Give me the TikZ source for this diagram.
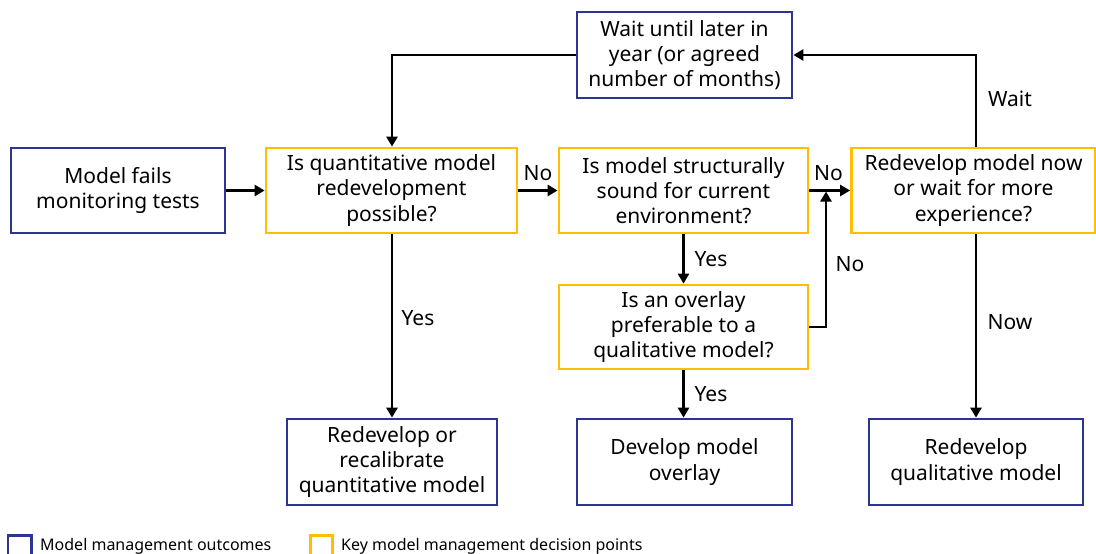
\documentclass[tikz,border=0pt]{standalone}
\usepackage{fontspec}
\setmainfont{Noto Sans}
\usetikzlibrary{arrows.meta}
\definecolor{outblue}{RGB}{46,52,146}
\definecolor{keyyellow}{RGB}{255,190,0}
\tikzset{
  box/.style={draw, line width=2.7pt, fill=white, align=center, inner sep=0pt,
    font=\fontsize{21}{25.2}\selectfont},
  outcome/.style={box, draw=outblue},
  decision/.style={box, draw=keyyellow},
  link/.style={line width=2.7pt, -{Triangle[length=10pt,width=11pt]}},
  lbl/.style={font=\fontsize{21}{24}\selectfont, inner sep=0pt},
  legendtext/.style={font=\fontsize{16}{19}\selectfont, anchor=base west, inner sep=0pt},
}
\begin{document}
\begin{tikzpicture}[x=1pt, y=-1pt]
\clip (0,0) rectangle (1096,554);
\fill[white] (0,0) rectangle (1096,554);

% boxes
\node[outcome,  minimum width=214pt, minimum height=85pt] (fail)    at (118,190.5)   {Model fails\\monitoring tests};
\node[decision, minimum width=251pt, minimum height=85pt] (quant)   at (391.5,190.5) {Is quantitative model\\redevelopment\\possible?};
\node[decision, minimum width=249pt, minimum height=85pt] (struct)  at (683.5,190.5) {Is model structurally\\sound for current\\environment?};
\node[decision, minimum width=244pt, minimum height=85pt] (redev)   at (973.5,190.5) {Redevelop model now\\or wait for more\\experience?};
\node[outcome,  minimum width=215pt, minimum height=86pt] (wait)    at (684.5,55)    {Wait until later in\\year (or agreed\\number of months)};
\node[decision, minimum width=249pt, minimum height=84pt] (overlay) at (683.5,327)   {Is an overlay\\preferable to a\\qualitative model?};
\node[outcome,  minimum width=210pt, minimum height=86pt] (recal)   at (392,462)     {Redevelop or\\recalibrate\\quantitative model};
\node[outcome,  minimum width=215pt, minimum height=86pt] (devov)   at (684.5,462)   {Develop model\\overlay};
\node[outcome,  minimum width=214pt, minimum height=86pt] (qual)    at (976,462)     {Redevelop\\qualitative model};

% connectors
\coordinate (join) at (826,191.5);
\draw[link] (fail) -- (quant);
\draw[link] (quant) -- (struct);
\draw[link] (struct) -- (redev);
\draw[link] (struct) -- (overlay);
\draw[link] (overlay.south) -- (overlay.south |- devov.north);
\draw[link] (quant.south -| recal.north) -- (recal.north);
\draw[link] (redev.south -| qual.north) -- (qual.north);
\draw[link] (overlay.east) -| (join);
\draw[link] (redev.north -| qual.north) |- (wait.east);
\draw[link] (wait.west) -| (quant.north -| recal.north);

% connector labels
\node[lbl] (l1) at (538,173) {No};
\node[lbl] (l2) at (828.5,173) {No};
\node[lbl] (l3) at (711,259) {Yes};
\node[lbl] (l4) at (850,264) {No};
\node[lbl] (l5) at (418,318) {Yes};
\node[lbl] (l6) at (711,394) {Yes};
\node[lbl] (l7) at (1010,322) {Now};
\node[lbl] (l8) at (1010,99) {Wait};

% legend
\draw[outblue, line width=2.6pt] (8,560) -- (8,535.5) -- (31.5,535.5) -- (31.5,560);
\node[legendtext] (k1) at (40,550) {Model management outcomes};
\draw[keyyellow, line width=2.6pt] (310.5,560) -- (310.5,535.5) -- (332.5,535.5) -- (332.5,560);
\node[legendtext] (k2) at (341,550) {Key model management decision points};
\end{tikzpicture}
\end{document}
